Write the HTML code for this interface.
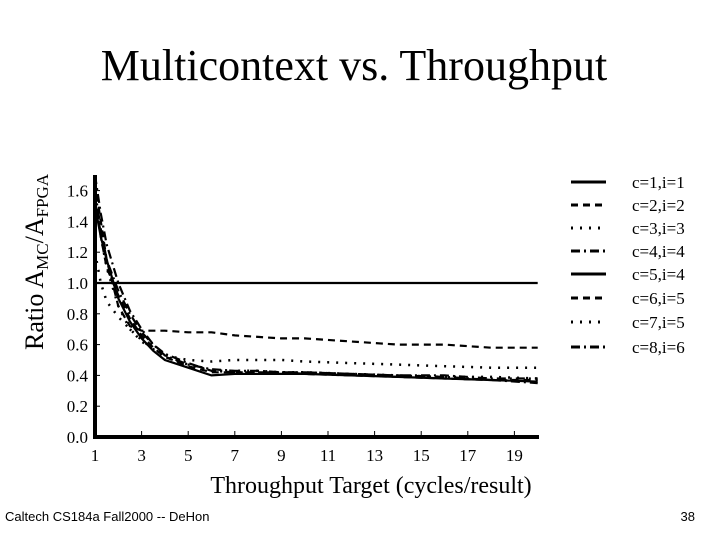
<!DOCTYPE html>
<html><head><meta charset="utf-8"><style>
body{margin:0;background:#fff;}
svg{display:block;font-family:"Liberation Serif",serif;}
</style></head><body>
<svg id="chart" width="720" height="540">
<text x="354" y="80" font-size="44" text-anchor="middle">Multicontext vs. Throughput</text>
<text transform="translate(43,350) rotate(-90)" font-size="26">Ratio A<tspan font-size="17" dy="5">MC</tspan><tspan dy="-5">/A</tspan><tspan font-size="17" dy="5">FPGA</tspan></text>
<text x="371" y="493" font-size="24" text-anchor="middle">Throughput Target (cycles/result)</text>
<text x="5" y="521" font-size="13" font-family="Liberation Sans, sans-serif">Caltech CS184a Fall2000 -- DeHon</text>
<text x="695" y="521" font-size="13" font-family="Liberation Sans, sans-serif" text-anchor="end">38</text>
<g id="axes"></g><g id="series"></g><g id="legend"></g>
</svg>
<script>
const xs=[1,1.25,1.5,2,2.5,3,3.5,4,5,6,7,8,9,10,12,14,16,18,20];
const s1=[1,1,1,1,1,1,1,1,1,1,1,1,1,1,1,1,1,1,1];
const s2=[1.65,1.4,1.15,0.85,0.72,0.69,0.69,0.69,0.68,0.68,0.66,0.65,0.64,0.64,0.62,0.60,0.60,0.58,0.58];
const s3=[1.6,1.3,1.1,0.85,0.7,0.62,0.57,0.53,0.5,0.49,0.5,0.5,0.5,0.49,0.48,0.47,0.46,0.45,0.45];
const s4=[1.7,1.45,1.25,1.0,0.82,0.7,0.6,0.53,0.47,0.44,0.43,0.43,0.42,0.42,0.41,0.4,0.4,0.38,0.38];
const s5=[1.5,1.3,1.15,0.9,0.75,0.64,0.56,0.5,0.45,0.4,0.41,0.41,0.41,0.41,0.40,0.39,0.38,0.37,0.36];
const s6=[1.55,1.3,1.1,0.92,0.77,0.66,0.58,0.52,0.46,0.42,0.42,0.42,0.42,0.41,0.40,0.39,0.38,0.37,0.37];
const s7=[1.2,1.0,0.88,0.78,0.7,0.63,0.57,0.52,0.47,0.43,0.43,0.43,0.42,0.42,0.41,0.40,0.39,0.39,0.38];
const s8=[1.6,1.35,1.15,0.95,0.8,0.68,0.6,0.54,0.48,0.43,0.42,0.42,0.42,0.42,0.41,0.40,0.39,0.37,0.35];
const seriesLabels=["c=1,i=1","c=2,i=2","c=3,i=3","c=4,i=4","c=5,i=4","c=6,i=5","c=7,i=5","c=8,i=6"];
const yTicks=[0,0.2,0.4,0.6,0.8,1.0,1.2,1.4,1.6];
const xTicks=[1,3,5,7,9,11,13,15,17,19];
const all=[s1,s2,s3,s4,s5,s6,s7,s8];
const dashes=["","7,5","2,7","9,4,2,4","","7,5","2,7","9,4,2,4"];
const X=v=>95+(v-1)*23.3, Y=v=>437-v*154;
const NS="http://www.w3.org/2000/svg";
function mk(p,t,a){const e=document.createElementNS(NS,t);for(const k in a)e.setAttribute(k,a[k]);p.appendChild(e);return e;}
const ax=document.getElementById('axes'),sg=document.getElementById('series'),lg=document.getElementById('legend');
let e=mk(ax,'line',{x1:95,y1:437,x2:539,y2:437,stroke:'#000','stroke-width':4});

e=mk(ax,'line',{x1:95,y1:175,x2:95,y2:439,stroke:'#000','stroke-width':4});

yTicks.forEach(v=>{mk(ax,'line',{x1:95,y1:Y(v),x2:100,y2:Y(v),stroke:'#000','stroke-width':1});
 const t=mk(ax,'text',{x:88,y:Y(v)+6,'font-size':17,'text-anchor':'end'});t.textContent=v.toFixed(1);
 });
xTicks.forEach(v=>{mk(ax,'line',{x1:X(v),y1:437,x2:X(v),y2:431,stroke:'#000','stroke-width':1});
 const t=mk(ax,'text',{x:X(v),y:461,'font-size':17,'text-anchor':'middle'});t.textContent=v;
 });
all.forEach((s,i)=>{
 const d=s.map((v,j)=>(j?'L':'M')+X(xs[j]).toFixed(1)+','+Y(v).toFixed(1)).join('');
 const p=mk(sg,'path',{d:d,fill:'none',stroke:'#000','stroke-width':i==2||i==6?2.5:2.2,'stroke-dasharray':dashes[i]});
 
 const yy=[182,205,228,251,274,298,322,347][i];
 const l=mk(lg,'line',{x1:571,y1:yy,x2:606,y2:yy,stroke:'#000','stroke-width':3,'stroke-dasharray':dashes[i]});
 
 const t=mk(lg,'text',{x:632,y:yy+6,'font-size':17});t.textContent=seriesLabels[i];
 
});
</script>
</body></html>
